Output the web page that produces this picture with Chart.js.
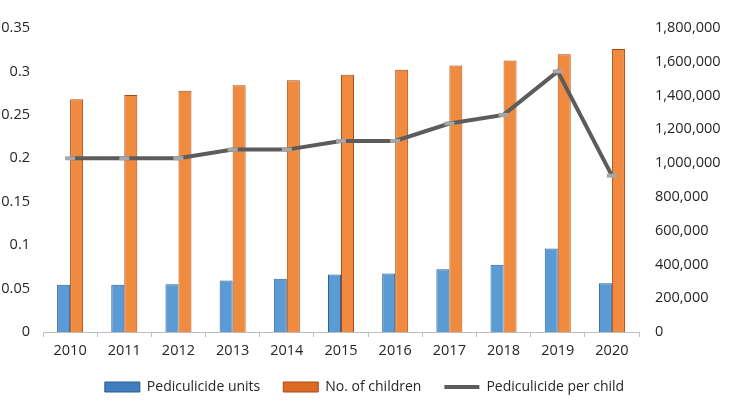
<!DOCTYPE html>
<html>
<head>
<meta charset="utf-8">
<script src="https://cdn.jsdelivr.net/npm/chart.js@4"></script>
<style>
  html, body { margin: 0; padding: 0; background: #ffffff; }
  #wrap { width: 729px; height: 404px; }
</style>
</head>
<body>
<div id="wrap"><canvas id="c" width="729" height="404"></canvas></div>
<script>
const years = ['2010','2011','2012','2013','2014','2015','2016','2017','2018','2019','2020'];
const pediculicideUnits = [280000, 280000, 283000, 305000, 315000, 341000, 347000, 372000, 398000, 495000, 289000];
const numberOfChildren = [1378000, 1404000, 1429000, 1461000, 1491000, 1523000, 1553000, 1578000, 1608000, 1645000, 1675000];
const perChild = [0.20, 0.20, 0.20, 0.21, 0.21, 0.22, 0.22, 0.24, 0.25, 0.30, 0.18];
const leftTicks = [0, 0.05, 0.1, 0.15, 0.2, 0.25, 0.3, 0.35];
const rightTicks = [0, 200000, 400000, 600000, 800000, 1000000, 1200000, 1400000, 1600000, 1800000];

const FONT = "'Open Sans', sans-serif";
const FS = 14.5;

function hGrad(ctx, color1, color2) {
  const el = ctx.element;
  const chart = ctx.chart;
  if (!el || !chart.chartArea || typeof el.x !== 'number' || !el.width) return color1;
  const x0 = el.x - el.width / 2, x1 = el.x + el.width / 2;
  const g = chart.ctx.createLinearGradient(x0, 0, x1, 0);
  g.addColorStop(0, color2);
  g.addColorStop(0.45, color1);
  g.addColorStop(1, color2);
  return g;
}

new Chart(document.getElementById('c'), {
  data: {
    labels: years,
    datasets: [
      {
        type: 'line',
        label: 'Pediculicide per child',
        data: perChild,
        yAxisID: 'yL',
        borderColor: '#5c5c5c',
        backgroundColor: '#5c5c5c',
        borderWidth: 4,
        pointStyle: 'line',
        pointRadius: 5,
        pointBorderColor: '#a6a6a6',
        pointBorderWidth: 4,
        pointHoverRadius: 5,
        tension: 0,
        order: 0
      },
      {
        type: 'bar',
        label: 'Pediculicide units',
        data: pediculicideUnits,
        yAxisID: 'yR',
        backgroundColor: (ctx) => hGrad(ctx, '#5b9bd5', '#2c64a0'),
        borderColor: '#2e5f95',
        borderWidth: 1,
        barPercentage: 1.0,
        categoryPercentage: 0.48,
        order: 1
      },
      {
        type: 'bar',
        label: 'No. of children',
        data: numberOfChildren,
        yAxisID: 'yR',
        backgroundColor: (ctx) => hGrad(ctx, '#f08a3e', '#c4521a'),
        borderColor: '#a84a16',
        borderWidth: 1,
        barPercentage: 1.0,
        categoryPercentage: 0.48,
        order: 1
      }
    ]
  },
  options: {
    responsive: false,
    animation: false,
    layout: { padding: { top: 28, left: 0, right: 0, bottom: 0 } },
    plugins: {
      tooltip: { enabled: false },
      legend: {
        position: 'bottom',
        labels: {
          font: { family: FONT, size: 14 },
          color: '#262626',
          usePointStyle: true,
          pointStyleWidth: 35,
          boxHeight: 10,
          padding: 23,
          sort: (a, b) => {
            const ord = {'Pediculicide units': 0, 'No. of children': 1, 'Pediculicide per child': 2};
            return ord[a.text] - ord[b.text];
          },
          generateLabels: (chart) => {
            const items = Chart.defaults.plugins.legend.labels.generateLabels(chart);
            items.forEach(it => {
              if (it.text === 'Pediculicide units') { it.pointStyle = 'rect'; it.fillStyle = '#3f7fc0'; it.strokeStyle = '#2a5a90'; it.lineWidth = 1; }
              if (it.text === 'No. of children') { it.pointStyle = 'rect'; it.fillStyle = '#dc6a24'; it.strokeStyle = '#a84a16'; it.lineWidth = 1; }
              if (it.text === 'Pediculicide per child') { it.pointStyle = 'line'; it.strokeStyle = '#5c5c5c'; it.lineWidth = 4; }
            });
            return items;
          }
        }
      }
    },
    scales: {
      x: {
        offset: true,
        afterFit: (axis) => { axis.height = 25; },
        grid: { display: true, drawOnChartArea: false, offset: true, tickLength: 5, color: '#bfbfbf' },
        border: { display: true, color: '#bfbfbf', width: 1 },
        ticks: { font: { family: FONT, size: FS }, color: '#262626', padding: 5 }
      },
      yL: {
        position: 'left',
        min: 0, max: 0.35,
        afterBuildTicks: (axis) => { axis.ticks = leftTicks.map(v => ({ value: v })); },
        afterFit: (axis) => { axis.width = 43; },
        grid: { display: false, drawTicks: false },
        border: { display: false },
        ticks: {
          font: { family: FONT, size: FS }, color: '#262626', padding: 13,
          callback: (v) => String(v)
        }
      },
      yR: {
        position: 'right',
        min: 0, max: 1800000,
        afterBuildTicks: (axis) => { axis.ticks = rightTicks.map(v => ({ value: v })); },
        afterFit: (axis) => { axis.width = 90; },
        grid: { display: false, drawTicks: false },
        border: { display: false },
        ticks: {
          font: { family: FONT, size: FS }, color: '#262626', padding: 16,
          callback: (v) => v.toLocaleString('en-US')
        }
      }
    }
  }
});
</script>
</body>
</html>
